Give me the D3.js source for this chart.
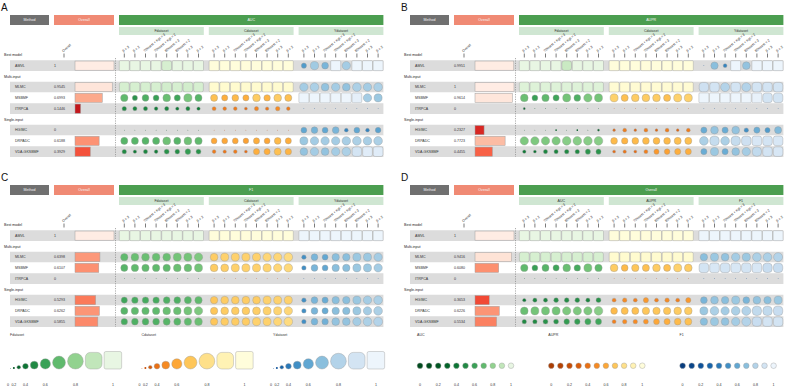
<!DOCTYPE html>
<html>
<head>
<meta charset="utf-8">
<script src="https://cdn.jsdelivr.net/npm/d3@7"></script>
<style>
body { margin: 0; background: #fff; }
text { font-family: "Liberation Sans", Arial, sans-serif; }
</style>
</head>
<body>
<svg width="787" height="387"></svg>
<script>
// methods and groups
var methods = ["AMVL", "MLMC", "MSBMF", "ITRPCA", "HGIMC", "DRPADC", "VDA-GKSBMF"];
var methodGroups = ["Best model", "Multi-input", "Single-input"];
var groupOf = [0, 1, 1, 1, 2, 2, 2];
var colLabels = ["β = 3", "β = 2", "70%test + Kgt = 3", "70%test + Kgt = 2", "80%test = 3", "80%test = 2", "β = 3", "β = 2"];
var legendTicks = [0, 0.2, 0.4, 0.6, 0.8, 1];
var legendSteps = [0, 0.1, 0.2, 0.3, 0.4, 0.5, 0.6, 0.7, 0.8, 0.9, 1];

// panel A : AUC
var aucOverall = [1, 0.9545, 0.6993, 0.1446, 0, 0.6188, 0.3929];
var aucFdataset = [
  [1, 1, 1, 1, 0.95, 1, 1, 1],
  [0.95, 0.95, 0.95, 0.95, 0.94, 0.95, 0.94, 0.95],
  [0.7, 0.55, 0.66, 0.6, 0.72, 0.62, 0.75, 0.68],
  [0.5, 0.48, 0.48, 0.44, 0.48, 0.42, 0.48, 0.42],
  [0.1, 0.1, 0.1, 0.1, 0.1, 0.1, 0.1, 0.1],
  [0.68, 0.68, 0.68, 0.68, 0.73, 0.68, 0.73, 0.7],
  [0.5, 0.42, 0.48, 0.44, 0.54, 0.52, 0.58, 0.54]
];
var aucCdataset = [
  [1, 1, 1, 1, 1, 1, 1, 1],
  [0.97, 0.97, 0.97, 0.97, 0.97, 0.97, 0.97, 0.97],
  [0.68, 0.62, 0.66, 0.62, 0.72, 0.64, 0.72, 0.68],
  [0.46, 0.44, 0.44, 0.38, 0.48, 0.42, 0.5, 0.44],
  [0.12, 0.12, 0.12, 0.12, 0.12, 0.12, 0.12, 0.12],
  [0.6, 0.6, 0.6, 0.58, 0.62, 0.6, 0.66, 0.62],
  [0.44, 0.42, 0.44, 0.38, 0.62, 0.62, 0.68, 0.64]
];
var aucYdataset = [
  [0.55, 0.75, 0.66, 1, 0.76, 1, 1, 1],
  [0.76, 0.78, 0.72, 0.76, 0.72, 0.78, 0.76, 0.78],
  [1, 1, 1, 1, 1, 0.97, 0.76, 0.74],
  [0.1, 0.1, 0.1, 0.1, 0.1, 0.1, 0.1, 0.1],
  [0.6, 0.65, 0.6, 0.66, 0.45, 0.6, 0.45, 0.58],
  [0.74, 0.76, 0.76, 0.76, 0.77, 0.78, 0.77, 0.78],
  [0.72, 0.76, 0.72, 0.76, 0.78, 0.9, 0.95, 0.95]
];

// panel B : AUPR
var auprOverall = [0.9951, 1, 0.9614, 0, 0.2327, 0.7723, 0.4455];
var auprFdataset = [
  [1, 1, 1, 1, 0.92, 1, 1, 1],
  [0.97, 0.97, 0.97, 0.97, 0.97, 0.97, 0.97, 0.97],
  [0.72, 0.6, 0.7, 0.62, 0.74, 0.66, 0.76, 0.74],
  [0.3, 0.15, 0.15, 0.1, 0.1, 0.1, 0.1, 0.1],
  [0.1, 0.1, 0.12, 0.25, 0.1, 0.25, 0.15, 0.3],
  [0.76, 0.76, 0.76, 0.76, 0.78, 0.78, 0.78, 0.78],
  [0.42, 0.38, 0.48, 0.48, 0.5, 0.5, 0.55, 0.55]
];
var auprCdataset = [
  [1, 1, 1, 1, 1, 1, 1, 1],
  [0.98, 0.98, 0.98, 0.98, 0.98, 0.98, 0.98, 0.98],
  [0.74, 0.68, 0.72, 0.72, 0.72, 0.68, 0.74, 0.74],
  [0.12, 0.12, 0.12, 0.12, 0.12, 0.12, 0.12, 0.12],
  [0.35, 0.45, 0.35, 0.45, 0.35, 0.45, 0.35, 0.45],
  [0.66, 0.64, 0.66, 0.66, 0.66, 0.66, 0.68, 0.68],
  [0.38, 0.42, 0.38, 0.46, 0.55, 0.58, 0.62, 0.62]
];
var auprYdataset = [
  [0.12, 0.7, 0.45, 1, 0.72, 1, 1, 1],
  [0.88, 0.9, 0.8, 0.9, 0.8, 0.9, 0.9, 0.9],
  [1, 1, 1, 1, 1, 0.98, 0.9, 0.9],
  [0.1, 0.1, 0.1, 0.1, 0.1, 0.1, 0.1, 0.1],
  [0.62, 0.72, 0.62, 0.72, 0.5, 0.62, 0.55, 0.68],
  [0.78, 0.85, 0.78, 0.85, 0.88, 0.92, 0.9, 0.92],
  [0.62, 0.74, 0.62, 0.72, 0.76, 0.84, 0.9, 0.92]
];

// panel C : F1
var f1Overall = [1, 0.6398, 0.6107, 0, 0.5293, 0.6262, 0.5855];
var f1Fdataset = [
  [1, 1, 1, 1, 1, 1, 1, 1],
  [0.7, 0.72, 0.72, 0.72, 0.72, 0.74, 0.74, 0.76],
  [0.68, 0.7, 0.7, 0.7, 0.7, 0.72, 0.72, 0.74],
  [0.1, 0.1, 0.1, 0.1, 0.1, 0.1, 0.1, 0.1],
  [0.62, 0.64, 0.64, 0.64, 0.66, 0.66, 0.68, 0.7],
  [0.68, 0.7, 0.7, 0.7, 0.72, 0.72, 0.74, 0.76],
  [0.64, 0.66, 0.66, 0.66, 0.68, 0.68, 0.7, 0.72]
];
var f1Cdataset = [
  [1, 1, 1, 1, 1, 1, 1, 1],
  [0.72, 0.74, 0.74, 0.74, 0.74, 0.76, 0.76, 0.78],
  [0.72, 0.73, 0.74, 0.74, 0.74, 0.75, 0.76, 0.77],
  [0.12, 0.12, 0.12, 0.12, 0.12, 0.12, 0.12, 0.12],
  [0.7, 0.72, 0.72, 0.72, 0.72, 0.74, 0.74, 0.74],
  [0.7, 0.72, 0.72, 0.72, 0.73, 0.74, 0.75, 0.76],
  [0.7, 0.72, 0.72, 0.72, 0.74, 0.74, 0.76, 0.78]
];
var f1Ydataset = [
  [1, 1, 1, 1, 1, 1, 1, 1],
  [0.5, 0.66, 0.6, 0.7, 0.7, 0.74, 0.74, 0.76],
  [0.5, 0.66, 0.6, 0.7, 0.7, 0.74, 0.74, 0.76],
  [0.1, 0.1, 0.1, 0.1, 0.1, 0.1, 0.1, 0.1],
  [0.5, 0.66, 0.62, 0.7, 0.7, 0.74, 0.76, 0.78],
  [0.5, 0.66, 0.62, 0.7, 0.7, 0.74, 0.76, 0.78],
  [0.5, 0.66, 0.64, 0.72, 0.72, 0.76, 0.78, 0.8]
];

// panel D : Overall
var allOverall = [1, 0.9416, 0.608, 0, 0.3653, 0.6226, 0.5534];
var allAUC = [
  [1, 1, 1, 1, 1, 1, 1, 1],
  [0.95, 0.95, 0.95, 0.95, 0.95, 0.95, 0.95, 0.95],
  [0.7, 0.6, 0.68, 0.62, 0.72, 0.64, 0.74, 0.7],
  [0.1, 0.1, 0.1, 0.1, 0.1, 0.1, 0.1, 0.1],
  [0.42, 0.48, 0.48, 0.52, 0.52, 0.52, 0.48, 0.54],
  [0.72, 0.74, 0.74, 0.74, 0.76, 0.76, 0.76, 0.78],
  [0.5, 0.5, 0.54, 0.54, 0.58, 0.58, 0.62, 0.62]
];
var allAUPR = [
  [1, 1, 1, 1, 1, 1, 1, 1],
  [0.97, 0.97, 0.97, 0.97, 0.97, 0.97, 0.97, 0.97],
  [0.72, 0.66, 0.7, 0.68, 0.72, 0.68, 0.74, 0.72],
  [0.1, 0.1, 0.1, 0.1, 0.1, 0.1, 0.1, 0.1],
  [0.46, 0.5, 0.46, 0.55, 0.46, 0.5, 0.46, 0.55],
  [0.66, 0.68, 0.68, 0.7, 0.7, 0.7, 0.72, 0.72],
  [0.46, 0.5, 0.5, 0.54, 0.6, 0.62, 0.66, 0.68]
];
var allF1 = [
  [1, 1, 1, 1, 1, 1, 1, 1],
  [0.7, 0.74, 0.72, 0.76, 0.74, 0.78, 0.78, 0.8],
  [0.9, 0.92, 0.9, 0.92, 0.9, 0.92, 0.86, 0.86],
  [0.1, 0.1, 0.1, 0.1, 0.1, 0.1, 0.1, 0.1],
  [0.66, 0.72, 0.7, 0.74, 0.66, 0.72, 0.7, 0.74],
  [0.74, 0.78, 0.76, 0.78, 0.8, 0.84, 0.84, 0.86],
  [0.7, 0.74, 0.72, 0.76, 0.8, 0.86, 0.9, 0.9]
];

var svg = d3.select("svg");

// kleuren
var palettes = [
  function (v) { return d3.interpolateGreens(0.98 - 0.88 * v * v); },
  function (v) { return d3.interpolateYlOrBr(0.83 - 0.8 * Math.pow(v, 1.5)); },
  function (v) { return d3.interpolateBlues(0.95 - 0.9 * Math.pow(v, 1.5)); }
];
var redScale = function (v) { return d3.interpolateReds(0.9 - 0.85 * v); };

// layout within a panel
var cw = 10.6, groupGap = 5, heatX = 119, barX = 75, barW = 39;
var slots = ["g0", "AMVL", "g1", "MLMC", "MSBMF", "ITRPCA", "g2", "HGIMC", "DRPADC", "VDA-GKSBMF"];
var y = d3.scaleBand().domain(slots).range([49.5, 157]);
var xBar = d3.scaleLinear().domain([0, 1]).range([0, barW]);
var xGroups = [0, 1, 2].map(function (k) {
  var x0 = heatX + k * (8 * cw + groupGap);
  return d3.scaleBand().domain(d3.range(8)).range([x0, x0 + 8 * cw]);
});
var rightEdge = xGroups[2].range()[1];

// funky rect: cirkel voor lage waarden, afgeronde rechthoek voor hoge
function funky(g, cx, bottomOrCenter, v, s, fill, alignBottom) {
  var w, r;
  if (v < 0.8) {
    w = Math.max(0.6, 0.9 * s * Math.pow(v / 0.8, 1.5));
    r = w / 2;
  } else {
    var t = (v - 0.8) / 0.2;
    w = s * (0.9 + 0.1 * t);
    r = w / 2 * (1 - 0.8 * t);
  }
  var cy = alignBottom ? bottomOrCenter - w / 2 : bottomOrCenter;
  g.append("rect")
    .attr("x", cx - w / 2).attr("y", cy - w / 2)
    .attr("width", w).attr("height", w)
    .attr("rx", r).attr("ry", r)
    .attr("fill", fill)
    .attr("stroke", "#9a9a9a")
    .attr("stroke-width", w < 2 ? 0 : 0.4);
}

function drawPanel(ox, oy, letter, bigTitle, subTitles, overall, groups) {
  var g = svg.append("g").attr("transform", "translate(" + ox + "," + oy + ")");

  g.append("text").attr("x", 1).attr("y", 10.5)
    .attr("font-size", 10).attr("fill", "#111").text(letter);

  // header boxes
  var heads = [
    {x0: 10, x1: 49, fill: "#707070", label: "Method"},
    {x0: 54, x1: 114, fill: "#f08a74", label: "Overall"},
    {x0: heatX, x1: rightEdge, fill: "#4b9e50", label: bigTitle}
  ];
  heads.forEach(function (h) {
    g.append("rect").attr("x", h.x0).attr("y", 15).attr("width", h.x1 - h.x0).attr("height", 10).attr("fill", h.fill);
    g.append("text").attr("x", (h.x0 + h.x1) / 2).attr("y", 21.3).attr("text-anchor", "middle")
      .attr("font-size", 3.6).attr("fill", "#f4f4f4").text(h.label);
  });
  xGroups.forEach(function (xs, k) {
    var r = xs.range();
    g.append("rect").attr("x", r[0]).attr("y", 27).attr("width", r[1] - r[0]).attr("height", 8).attr("fill", "#cfe6d2");
    g.append("text").attr("x", (r[0] + r[1]) / 2).attr("y", 32.3).attr("text-anchor", "middle")
      .attr("font-size", 3.6).attr("fill", "#333").text(subTitles[k]);
  });

  // column labels
  xGroups.forEach(function (xs) {
    xs.domain().forEach(function (i) {
      var cx = xs(i) + xs.bandwidth() / 2;
      g.append("line").attr("x1", cx).attr("x2", cx).attr("y1", 53.5).attr("y2", 57.5)
        .attr("stroke", "#222").attr("stroke-width", 0.6);
      g.append("text").attr("transform", "translate(" + (cx - 0.8) + ",52.3) rotate(-40)")
        .attr("font-size", 3.4).attr("fill", "#333").text(colLabels[i]);
    });
  });
  g.append("line").attr("x1", 64).attr("x2", 64).attr("y1", 53.5).attr("y2", 57.5)
    .attr("stroke", "#222").attr("stroke-width", 0.6);
  g.append("text").attr("transform", "translate(63.2,52.3) rotate(-40)")
    .attr("font-size", 3.4).attr("fill", "#333").text("Overall");

  // group labels
  methodGroups.forEach(function (name, k) {
    g.append("text").attr("x", 4).attr("y", y("g" + k) + y.bandwidth() / 2 + 1.3)
      .attr("font-size", 3.6).attr("fill", "#222").text(name);
  });

  // rows
  methods.forEach(function (m, i) {
    var idxInGroup = groupOf.slice(0, i).filter(function (q) { return q === groupOf[i]; }).length;
    var top = y(m), cy = top + y.bandwidth() / 2;
    g.append("rect").attr("x", 10).attr("y", top).attr("width", rightEdge - 10).attr("height", y.bandwidth())
      .attr("fill", idxInGroup % 2 === 0 ? "#dcdcdc" : "#ffffff");
    g.append("text").attr("x", 15).attr("y", cy + 1.3).attr("font-size", 3.6).attr("fill", "#333").text(m);
    var v = overall[i];
    g.append("text").attr("x", 54).attr("y", cy + 1.3).attr("font-size", 3.6).attr("fill", "#333")
      .text(v === 0 || v === 1 ? String(v) : v.toFixed(4));
    if (v > 0) {
      g.append("rect").attr("x", barX).attr("y", top + 0.8).attr("width", xBar(v)).attr("height", y.bandwidth() - 1.6)
        .attr("fill", redScale(v)).attr("stroke", "#a0a0a0").attr("stroke-width", 0.5);
    }
    groups.forEach(function (data, k) {
      var xs = xGroups[k];
      data[i].forEach(function (val, j) {
        funky(g, xs(j) + xs.bandwidth() / 2, cy, val, cw - 0.6, palettes[k](val), false);
      });
    });
  });

  g.append("line").attr("x1", 115.5).attr("x2", 115.5).attr("y1", 58).attr("y2", 157)
    .attr("stroke", "#777").attr("stroke-width", 0.6).attr("stroke-dasharray", "1.2,1.2");
}

drawPanel(0, 0, "A", "AUC", ["Fdataset", "Cdataset", "Ydataset"], aucOverall, [aucFdataset, aucCdataset, aucYdataset]);
drawPanel(400, 0, "B", "AUPR", ["Fdataset", "Cdataset", "Ydataset"], auprOverall, [auprFdataset, auprCdataset, auprYdataset]);
drawPanel(0, 170, "C", "F1", ["Fdataset", "Cdataset", "Ydataset"], f1Overall, [f1Fdataset, f1Cdataset, f1Ydataset]);
drawPanel(400, 170, "D", "Overall", ["AUC", "AUPR", "F1"], allOverall, [allAUC, allAUPR, allF1]);

// legenda C: grootte + kleur
var sizeTitles = ["Fdataset", "Cdataset", "Ydataset"];
sizeTitles.forEach(function (name, k) {
  var lg = svg.append("g").attr("transform", "translate(" + (8 + k * 131.5) + ",0)");
  lg.append("text").attr("x", 2).attr("y", 336.3).attr("font-size", 3.6).attr("fill", "#333").text(name);
  var s = 17.5, gap = 2.1, pos = 0, prevW = 0, centers = [];
  legendSteps.forEach(function (v, i) {
    var w = v < 0.8 ? 0.9 * s * Math.pow(v / 0.8, 1.5) : s * (0.9 + 0.1 * (v - 0.8) / 0.2);
    if (i > 0) pos += (prevW + w) / 2 + gap;
    centers.push(pos);
    prevW = w;
    if (v > 0) funky(lg, pos, 369, v, s, palettes[k](v), true);
  });
  legendTicks.forEach(function (t) {
    var i = legendSteps.indexOf(t);
    lg.append("text").attr("x", centers[i]).attr("y", 385.8).attr("text-anchor", "middle")
      .attr("font-size", 3.6).attr("fill", "#333").text(t);
  });
});

// legenda D: alleen kleur
var colorTitles = ["AUC", "AUPR", "F1"];
colorTitles.forEach(function (name, k) {
  var x0 = 420 + k * 131.3;
  var xl = d3.scaleLinear().domain([0, 1]).range([x0, x0 + 91]);
  svg.append("text").attr("x", x0 - 3).attr("y", 336.3).attr("font-size", 3.6).attr("fill", "#333").text(name);
  svg.selectAll(null).data(legendSteps).enter().append("circle")
    .attr("cx", function (d) { return xl(d); })
    .attr("cy", 365.7)
    .attr("r", 2.8)
    .attr("fill", function (d) { return palettes[k](d); })
    .attr("stroke", "#9a9a9a").attr("stroke-width", 0.4);
  svg.selectAll(null).data(legendTicks).enter().append("text")
    .attr("x", function (d) { return xl(d); })
    .attr("y", 385.8).attr("text-anchor", "middle")
    .attr("font-size", 3.6).attr("fill", "#333")
    .text(function (d) { return d; });
});
</script>
</body>
</html>
